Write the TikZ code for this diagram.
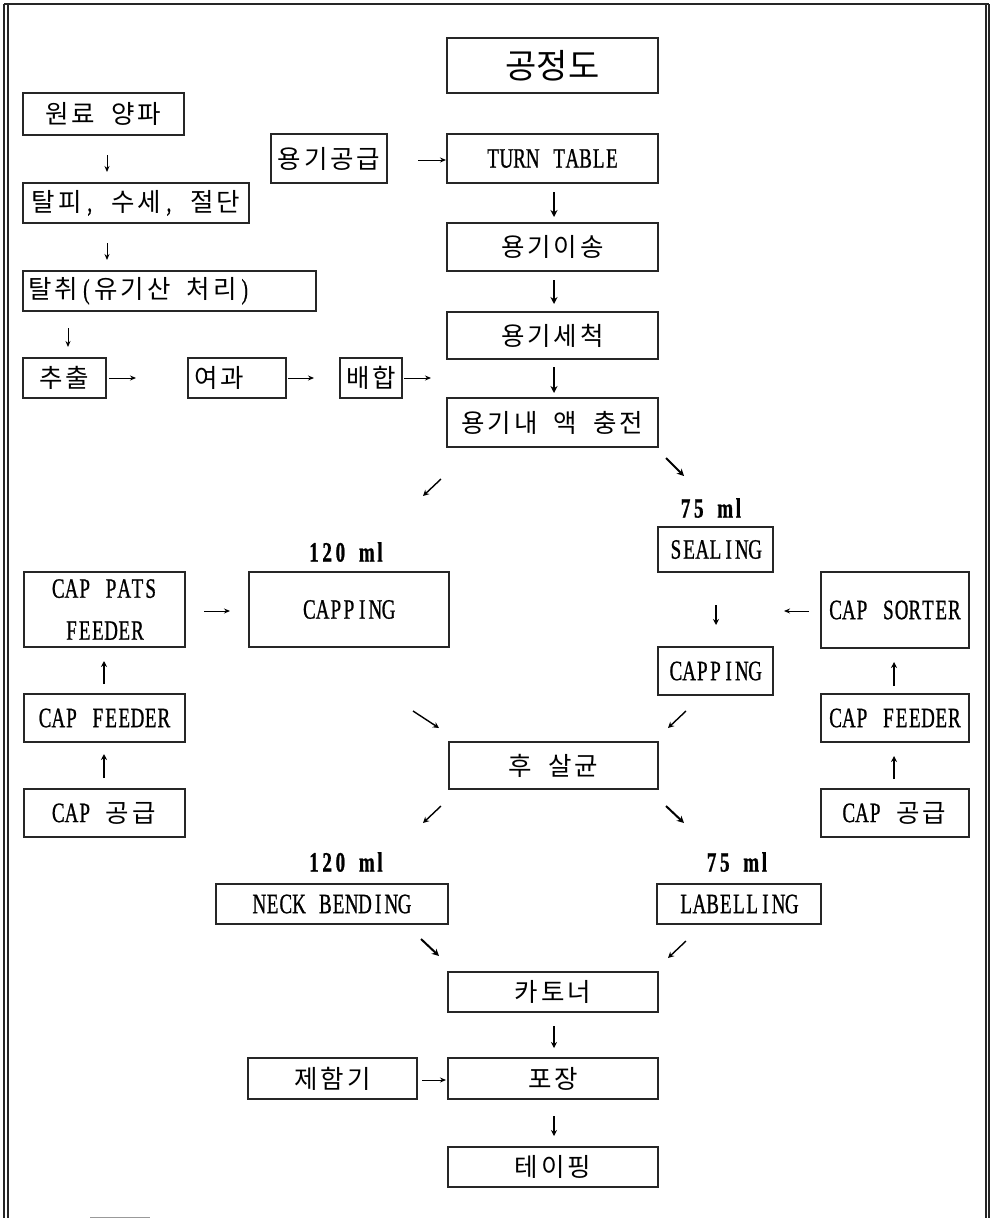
\documentclass[tikz,border=0pt]{standalone}
\usepackage{fontspec}
\setmainfont{Liberation Serif}[FakeStretch=0.68,FakeBold=0.8]
\newfontfamily\kr{Noto Sans CJK KR}
\usetikzlibrary{arrows.meta}
\newdimen\cellw \cellw=13.2pt
\def\monoend{\monoend}
\newcommand\mono[1]{\monoloop#1\monoend}
\def\monoloop#1{%
  \ifx\monoend#1\else
    \monochar#1%
    \expandafter\monoloop
  \fi}
\def\monochar#1{%
  \if_#1\hspace*{\cellw}%
  \else
    \ifnum`#1>255 \makebox[2\cellw]{\kr\fontsize{25.5}{30}\selectfont#1}%
    \else\makebox[\cellw]{#1}%
    \fi
  \fi}
\begin{document}
\begin{tikzpicture}[x=1pt,y=-1pt,
  box/.style={draw=black!85,line width=1.1pt,rectangle,inner sep=0pt,
    font=\fontsize{28}{30}\selectfont},
  lbl/.style={inner sep=0pt,font=\fontsize{28}{30}\selectfont\bfseries},
  thin/.style={line width=0.9pt,-{Stealth[length=6pt,width=5pt]}},
  mid/.style={line width=1.4pt,-{Stealth[length=6pt,width=6pt]}},
  bold/.style={line width=2pt,-{Stealth[length=7pt,width=7pt]}},
  frame/.style={line width=1.2pt,black!85}]
\useasboundingbox (0,0) rectangle (991,1218);
% frame
\draw[frame] (4,4) -- (989,4);
\draw[frame] (4,4) -- (4,1218);
\draw[frame] (8,4) -- (8,1218);
\draw[frame] (986,4) -- (986,1218);
\draw[frame] (989,4) -- (989,1218);
\draw[line width=1pt,black!40] (90,1217) -- (150,1217);
% title
\node[box,minimum width=211pt,minimum height=55pt] (title) at (552.5,65.5)
  {\kr\fontsize{34}{36}\selectfont 공정도};
% left column
\node[box,minimum width=161pt,minimum height=42pt] (won) at (103.5,114) {\mono{원료_양파}};
\node[box,minimum width=226pt,minimum height=40pt] (talpi) at (136,203) {\mono{탈피,_수세,_절단}};
\node[box,text width=293pt,align=left,minimum height=40pt] (talchwi) at (169.5,291)
  {\hspace*{4pt}\mono{탈취(유기산_처리)}};
\node[box,minimum width=83pt,minimum height=40pt] (chuchul) at (64.5,378) {\mono{추출}};
\node[box,text width=98pt,align=left,minimum height=40pt] (yeogwa) at (237,378)
  {\hspace*{5pt}\mono{여과}};
\node[box,minimum width=62pt,minimum height=40pt] (baehap) at (371,378) {\mono{배합}};
\node[box,minimum width=116pt,minimum height=49pt] (yonggi) at (329,158.5) {\mono{용기공급}};
% center column
\node[box,minimum width=211pt,minimum height=49pt] (turn) at (552.5,158.5) {\mono{TURN_TABLE}};
\node[box,minimum width=211pt,minimum height=48pt] (isong) at (552.5,247) {\mono{용기이송}};
\node[box,minimum width=211pt,minimum height=47pt] (sechuk) at (552.5,335.5) {\mono{용기세척}};
\node[box,minimum width=211pt,minimum height=49pt] (fill) at (552.5,422.5) {\mono{용기내_액_충전}};
% 75 ml branch
\node[lbl] (mlA) at (712,508) {\mono{75_ml}};
\node[box,minimum width=115pt,minimum height=45pt] (sealing) at (715.5,549.5) {\mono{SEALING}};
\node[box,minimum width=115pt,minimum height=48pt] (capR) at (715.5,671) {\mono{CAPPING}};
\node[box,minimum width=148pt,minimum height=76pt] (sorter) at (895,610) {\mono{CAP_SORTER}};
\node[box,minimum width=148pt,minimum height=48pt] (feedR) at (895,718) {\mono{CAP_FEEDER}};
\node[box,minimum width=148pt,minimum height=48pt] (supR) at (895,813) {\mono{CAP_공급}};
% 120 ml branch
\node[lbl] (mlB) at (347,552) {\mono{120_ml}};
\node[box,minimum width=161pt,minimum height=75pt,align=center,
  font=\fontsize{28}{42}\selectfont] (pats) at (104.5,609.5) {\mono{CAP_PATS}\\\mono{FEEDER}};
\node[box,minimum width=200pt,minimum height=75pt] (capL) at (349,609.5) {\mono{CAPPING}};
\node[box,minimum width=161pt,minimum height=48pt] (feedL) at (104.5,718) {\mono{CAP_FEEDER}};
\node[box,minimum width=161pt,minimum height=48pt] (supL) at (104.5,813) {\mono{CAP_공급}};
% lower part
\node[box,minimum width=209pt,minimum height=47pt] (hu) at (553.5,765.5) {\mono{후_살균}};
\node[lbl] (mlC) at (347,862) {\mono{120_ml}};
\node[lbl] (mlD) at (738,862) {\mono{75_ml}};
\node[box,minimum width=232pt,minimum height=40pt] (neck) at (332,904) {\mono{NECK_BENDING}};
\node[box,minimum width=164pt,minimum height=40pt] (label) at (739,904) {\mono{LABELLING}};
\node[box,minimum width=210pt,minimum height=40pt] (carton) at (553,992) {\mono{카토너}};
\node[box,minimum width=169pt,minimum height=41pt] (jeham) at (332.5,1078.5) {\mono{제함기}};
\node[box,minimum width=210pt,minimum height=41pt] (pojang) at (553,1078.5) {\mono{포장}};
\node[box,minimum width=210pt,minimum height=40pt] (taping) at (553,1167) {\mono{테이핑}};
% arrow end points
\coordinate (a1s) at (107,155); \coordinate (a1e) at (107,172);
\coordinate (a2s) at (107,243); \coordinate (a2e) at (107,260);
\coordinate (a3s) at (68,328);  \coordinate (a3e) at (68,347);
\coordinate (a4s) at (109,378); \coordinate (a4e) at (136,378);
\coordinate (a5s) at (288,378); \coordinate (a5e) at (314,378);
\coordinate (a6s) at (404,378); \coordinate (a6e) at (431,378);
\coordinate (a7s) at (418,160); \coordinate (a7e) at (446,160);
\coordinate (a8s) at (554,192); \coordinate (a8e) at (554,217);
\coordinate (a9s) at (554,280); \coordinate (a9e) at (554,304);
\coordinate (a10s) at (554,367); \coordinate (a10e) at (554,393);
\coordinate (a11s) at (441,479); \coordinate (a11e) at (423,496);
\coordinate (a12s) at (666,458); \coordinate (a12e) at (684,476);
\coordinate (a13s) at (716,605); \coordinate (a13e) at (716,625);
\coordinate (a14s) at (809,611); \coordinate (a14e) at (784,611);
\coordinate (a15s) at (894,686); \coordinate (a15e) at (894,662);
\coordinate (a16s) at (894,779); \coordinate (a16e) at (894,756);
\coordinate (a17s) at (686,711); \coordinate (a17e) at (668,728);
\coordinate (a18s) at (413,711); \coordinate (a18e) at (439,728);
\coordinate (a19s) at (204,611); \coordinate (a19e) at (230,611);
\coordinate (a20s) at (104,684); \coordinate (a20e) at (104,661);
\coordinate (a21s) at (104,778); \coordinate (a21e) at (104,754);
\coordinate (a22s) at (441,806); \coordinate (a22e) at (423,823);
\coordinate (a23s) at (666,806); \coordinate (a23e) at (684,823);
\coordinate (a24s) at (421,939); \coordinate (a24e) at (439,956);
\coordinate (a25s) at (686,941); \coordinate (a25e) at (668,958);
\coordinate (a26s) at (554,1026); \coordinate (a26e) at (554,1048);
\coordinate (a27s) at (422,1080); \coordinate (a27e) at (446,1080);
\coordinate (a28s) at (554,1116); \coordinate (a28e) at (554,1136);
% arrows
\draw[thin] (a1s) -- (a1e);
\draw[thin] (a2s) -- (a2e);
\draw[thin] (a3s) -- (a3e);
\draw[thin] (a4s) -- (a4e);
\draw[thin] (a5s) -- (a5e);
\draw[thin] (a6s) -- (a6e);
\draw[thin] (a7s) -- (a7e);
\draw[bold] (a8s) -- (a8e);
\draw[bold] (a9s) -- (a9e);
\draw[bold] (a10s) -- (a10e);
\draw[mid] (a11s) -- (a11e);
\draw[bold] (a12s) -- (a12e);
\draw[mid] (a13s) -- (a13e);
\draw[thin] (a14s) -- (a14e);
\draw[mid] (a15s) -- (a15e);
\draw[mid] (a16s) -- (a16e);
\draw[mid] (a17s) -- (a17e);
\draw[mid] (a18s) -- (a18e);
\draw[thin] (a19s) -- (a19e);
\draw[mid] (a20s) -- (a20e);
\draw[mid] (a21s) -- (a21e);
\draw[mid] (a22s) -- (a22e);
\draw[bold] (a23s) -- (a23e);
\draw[bold] (a24s) -- (a24e);
\draw[mid] (a25s) -- (a25e);
\draw[mid] (a26s) -- (a26e);
\draw[thin] (a27s) -- (a27e);
\draw[mid] (a28s) -- (a28e);
\end{tikzpicture}
\end{document}
